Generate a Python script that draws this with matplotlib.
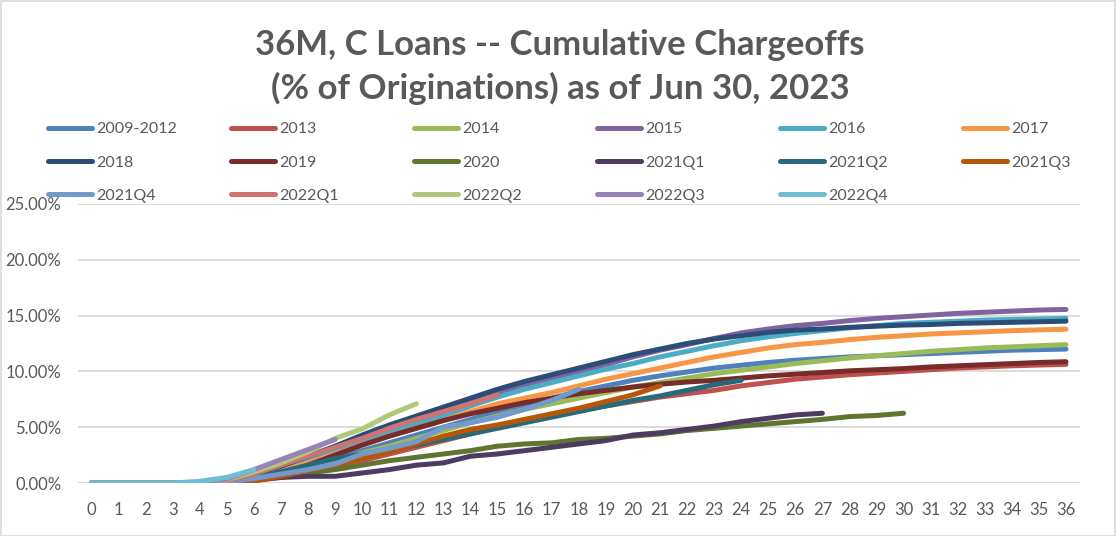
import matplotlib
matplotlib.use("Agg")
import matplotlib.pyplot as plt
from matplotlib.ticker import FuncFormatter, MultipleLocator
from matplotlib.patches import Rectangle

plt.rcParams['font.family'] = ['Lato', 'DejaVu Sans']

months = list(range(0, 37))

labels = ["2009-2012", "2013", "2014", "2015", "2016", "2017",
          "2018", "2019", "2020", "2021Q1", "2021Q2", "2021Q3",
          "2021Q4", "2022Q1", "2022Q2", "2022Q3", "2022Q4"]

s2009_2012 = [0, 0, 0, 0, 0.05, 0.1, 0.4, 0.9, 1.5, 2.2, 2.9, 3.6, 4.3, 5.0, 5.7, 6.4, 7.0, 7.6, 8.2,
              8.7, 9.2, 9.6, 9.95, 10.3, 10.55, 10.8, 11.0, 11.15, 11.3, 11.4, 11.5, 11.6, 11.7, 11.8,
              11.9, 11.95, 12.0]
s2013 = [0, 0, 0, 0, 0, 0.05, 0.2, 0.5, 0.9, 1.4, 2.0, 2.6, 3.2, 3.8, 4.4, 5.0, 5.5, 6.0, 6.5,
         6.9, 7.3, 7.7, 8.0, 8.3, 8.7, 9.0, 9.3, 9.5, 9.7, 9.85, 10.0, 10.15, 10.3, 10.4, 10.5,
         10.57, 10.63]
s2014 = [0, 0, 0, 0, 0, 0.1, 0.4, 0.9, 1.4, 2.0, 2.7, 3.3, 4.0, 4.7, 5.4, 6.0, 6.6, 7.1, 7.6,
         8.1, 8.6, 9.0, 9.4, 9.8, 10.1, 10.4, 10.7, 10.95, 11.2, 11.4, 11.6, 11.8, 11.95, 12.1,
         12.2, 12.3, 12.4]
s2015 = [0, 0, 0, 0, 0, 0.15, 0.6, 1.3, 2.1, 3.0, 3.9, 4.7, 5.5, 6.3, 7.2, 8.1, 8.8, 9.3, 9.9,
         10.6, 11.3, 11.9, 12.4, 12.95, 13.45, 13.8, 14.1, 14.3, 14.55, 14.75, 14.9, 15.05, 15.2,
         15.3, 15.4, 15.5, 15.55]
s2016 = [0, 0, 0, 0, 0, 0.3, 0.8, 1.5, 2.2, 3.0, 3.8, 4.6, 5.3, 6.0, 6.9, 7.7, 8.4, 9.0, 9.6,
         10.2, 10.7, 11.3, 11.8, 12.3, 12.75, 13.1, 13.4, 13.65, 13.9, 14.1, 14.3, 14.4, 14.5,
         14.6, 14.65, 14.7, 14.75]
s2017 = [0, 0, 0, 0, 0, 0.1, 0.5, 1.1, 1.8, 2.6, 3.4, 4.2, 4.9, 5.6, 6.4, 7.1, 7.6, 8.1, 8.7,
         9.3, 9.8, 10.3, 10.8, 11.3, 11.7, 12.1, 12.4, 12.6, 12.85, 13.05, 13.2, 13.35, 13.45,
         13.55, 13.65, 13.72, 13.78]
s2018 = [0, 0, 0, 0, 0.05, 0.2, 0.7, 1.5, 2.4, 3.3, 4.3, 5.2, 6.0, 6.8, 7.6, 8.4, 9.1, 9.7, 10.3,
         10.9, 11.5, 12.0, 12.5, 12.9, 13.2, 13.5, 13.7, 13.8, 13.95, 14.05, 14.15, 14.2, 14.3,
         14.35, 14.4, 14.45, 14.5]
s2019 = [0, 0, 0, 0, 0, 0.05, 0.3, 0.8, 1.6, 2.5, 3.4, 4.2, 4.9, 5.6, 6.2, 6.7, 7.2, 7.6, 8.0,
         8.3, 8.6, 8.85, 9.05, 9.2, 9.4, 9.6, 9.75, 9.9, 10.05, 10.15, 10.25, 10.4, 10.5, 10.6,
         10.7, 10.8, 10.87]
s2020 = [0, 0, 0, 0, 0, 0, 0.3, 0.6, 0.9, 1.2, 1.6, 2.0, 2.3, 2.6, 2.9, 3.3, 3.5, 3.6, 3.9,
         4.0, 4.2, 4.4, 4.7, 4.9, 5.1, 5.3, 5.5, 5.7, 5.95, 6.05, 6.25]
s2021q1 = [0, 0, 0, 0, 0.05, 0.1, 0.3, 0.5, 0.6, 0.6, 0.9, 1.2, 1.6, 1.8, 2.4, 2.6, 2.9, 3.2,
           3.5, 3.8, 4.3, 4.5, 4.8, 5.1, 5.5, 5.8, 6.1, 6.25]
s2021q2 = [0, 0, 0, 0, 0, 0.05, 0.4, 1.0, 1.6, 2.2, 2.6, 3.0, 3.4, 3.9, 4.4, 4.9, 5.4, 5.9, 6.4,
           6.9, 7.4, 7.8, 8.3, 8.8, 9.2]
s2021q3 = [0, 0, 0, 0, 0, 0, 0.2, 0.6, 1.1, 1.6, 2.2, 2.8, 3.5, 4.2, 4.8, 5.2, 5.7, 6.2, 6.7,
           7.3, 7.9, 8.7]
s2021q4 = [0, 0, 0, 0, 0, 0.1, 0.4, 0.8, 1.2, 1.7, 2.6, 3.1, 3.7, 5.0, 5.4, 5.9, 6.6, 7.4, 8.4]
s2022q1 = [0, 0, 0, 0, 0, 0.2, 0.8, 1.6, 2.4, 3.2, 4.0, 4.9, 5.7, 6.4, 7.1, 7.9]
s2022q2 = [0, 0, 0, 0, 0, 0.3, 1.0, 1.8, 2.8, 4.0, 4.85, 6.1, 7.1]
s2022q3 = [0, 0, 0, 0, 0.05, 0.35, 1.2, 2.1, 3.0, 3.9]
s2022q4 = [0, 0, 0, 0, 0.15, 0.5, 1.2]

series = [s2009_2012, s2013, s2014, s2015, s2016, s2017, s2018, s2019, s2020,
          s2021q1, s2021q2, s2021q3, s2021q4, s2022q1, s2022q2, s2022q3, s2022q4]

colors = ["#4F81BD", "#C0504D", "#9BBB59", "#8064A2", "#4BACC6", "#F79646",
          "#2C4D75", "#772C2A", "#5F7530", "#4D3B62", "#276A7C", "#B65708",
          "#729ACA", "#CD7371", "#AFC97A", "#9983B5", "#6FBDD1"]

title = "36M, C Loans -- Cumulative Chargeoffs\n(% of Originations) as of Jun 30, 2023"
text_color = "#595959"

W, H = 1116, 536
fig = plt.figure(figsize=(W / 100, H / 100), dpi=100)
fig.patch.set_facecolor("white")
fig.patches.append(Rectangle((0.5 / W, 0.5 / H), 1 - 1.5 / W, 1 - 1.5 / H, transform=fig.transFigure,
                             fill=False, edgecolor="#D9D9D9", linewidth=1.2))

ax = fig.add_axes([78 / W, (H - 483) / H, (1079.5 - 78) / W, (483 - 204) / H])
lines = []
for lab, vals, col in zip(labels, series, colors):
    ln, = ax.plot(months[:len(vals)], vals, color=col, linewidth=3.6, label=lab,
                  solid_capstyle="round", solid_joinstyle="round")
    lines.append(ln)

ax.set_xlim(-0.5, 36.5)
ax.set_ylim(0, 25)
ax.yaxis.set_major_locator(MultipleLocator(5))
ax.yaxis.set_major_formatter(FuncFormatter(lambda v, p: f"{v:.2f}%"))
ax.set_xticks(months)
ax.set_xticklabels([str(m) for m in months])
ax.grid(axis="y", color="#D9D9D9", linewidth=1.3)
ax.set_axisbelow(True)
for s in ax.spines.values():
    s.set_visible(False)
ax.tick_params(axis="both", length=0, colors=text_color, labelsize=12)
ax.tick_params(axis="x", pad=14)
ax.tick_params(axis="y", pad=12)

fig.text(0.5 + 2 / W, 1 - 67 / H, title, ha="center", va="center", fontsize=25, fontweight="bold",
         color=text_color, linespacing=1.42)

# legend: 6 columns laid out row-wise
col_x = [48, 231, 414, 597, 780, 963]
for c in range(6):
    idx = [c + 6 * r for r in range(3) if c + 6 * r < len(lines)]
    fig.legend([lines[i] for i in idx], [labels[i] for i in idx], loc="upper left",
               bbox_to_anchor=(col_x[c] / W, 1 - 122 / H), frameon=False, fontsize=11.5,
               handlelength=2.75, handletextpad=0.25, labelspacing=1.2, borderaxespad=0,
               borderpad=0, labelcolor=text_color)

fig.savefig("out.png", dpi=100)
